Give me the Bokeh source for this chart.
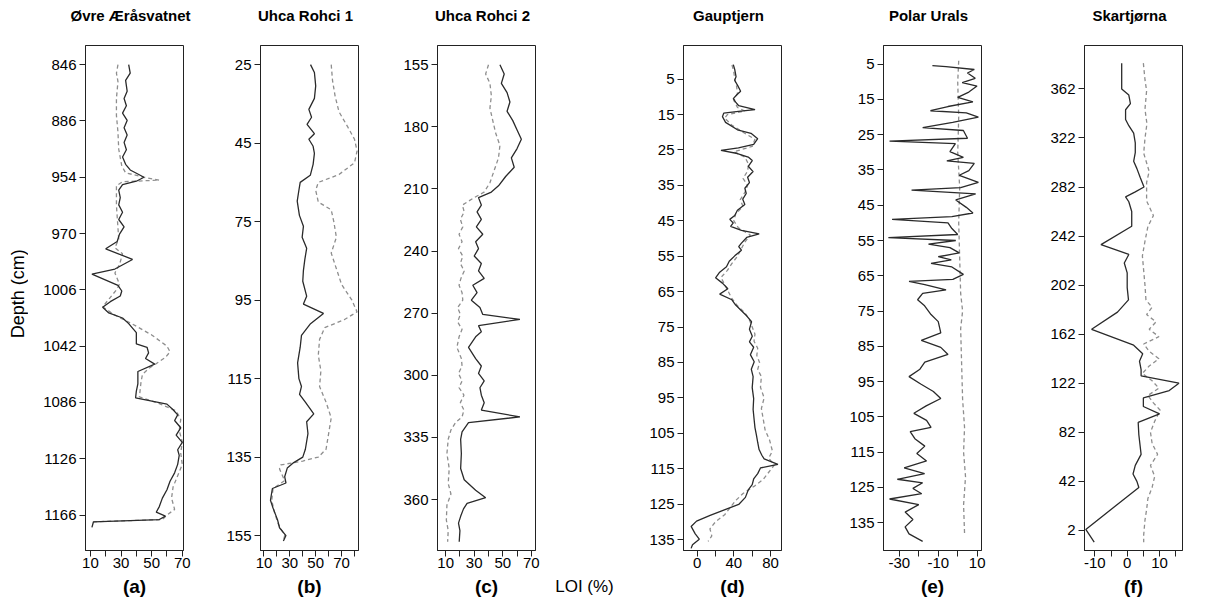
import math
from bokeh.plotting import figure
from bokeh.models import Range1d, FixedTicker, Label
from bokeh.layouts import row, column
from bokeh.embed import file_html
from bokeh.resources import INLINE

# ---------------- data ----------------
# Depth axes of panels a-c are drawn in evenly spaced "label slots": slot i carries label *_depth_labels[i].
titles = ["Øvre Æråsvatnet", "Uhca Rohci 1", "Uhca Rohci 2", "Gauptjern", "Polar Urals", "Skartjørna"]
letters = ["(a)", "(b)", "(c)", "(d)", "(e)", "(f)"]

a_depth_labels = ["846", "886", "954", "970", "1006", "1042", "1086", "1126", "1166"]
a_solid_pos = [0.00, 0.15, 0.28, 0.47, 0.60, 0.73, 0.86, 0.99, 1.12, 1.25, 1.38, 1.51, 1.64, 1.77, 1.87, 2.00, 2.07,
               2.13, 2.23, 2.36, 2.49, 2.62, 2.75, 2.88, 3.01, 3.14, 3.27, 3.46, 3.63, 3.72, 3.92, 4.02, 4.11, 4.21,
               4.31, 4.41, 4.50, 4.60, 4.76, 4.96, 5.02, 5.12, 5.22, 5.32, 5.45, 5.67, 5.80, 5.92, 6.03, 6.13, 6.22,
               6.32, 6.45, 6.58, 6.71, 6.84, 6.94, 7.10, 7.25, 7.40, 7.55, 7.70, 7.85, 7.95, 8.02, 8.08, 8.12, 8.22]
a_solid_loi = [35, 36, 33, 34, 32, 33.5, 31, 34, 32, 34, 32, 33.5, 31, 33, 36, 45, 40, 31, 28.5, 29.5, 28.5, 31, 28.5,
               32, 29, 27.5, 20, 37.5, 26, 11, 28, 30.5, 29.5, 23, 18, 22, 31, 35, 40, 40, 47, 48, 46, 52, 41, 41, 40,
               39.5, 60, 64, 67, 65, 69, 66, 70, 67, 68, 67, 65, 62, 60, 57, 55, 53, 59, 55, 12, 11]
a_dash_pos = [0.0, 0.15, 0.3, 0.6, 0.9, 1.2, 1.5, 1.8, 1.92, 2.0, 2.05, 2.08, 2.15, 2.5, 2.9, 3.1, 3.25, 3.36, 3.55,
              3.7, 3.9, 4.0, 4.15, 4.3, 4.45, 4.6, 4.8, 5.0, 5.1, 5.2, 5.4, 5.5, 5.65, 5.9, 6.02, 6.15, 6.3, 6.5, 6.7,
              6.9, 7.1, 7.3, 7.5, 7.7, 7.9, 8.0, 8.08, 8.12]
a_dash_loi = [28, 27, 28, 27, 27, 28, 28.5, 30.5, 33, 45, 55, 31, 27, 27, 28, 28.5, 26, 31, 29, 26, 29, 27, 22.5, 18,
              26, 37, 50, 60, 62, 59, 48, 44, 43, 42, 55, 66, 69, 68, 70, 69, 70, 67, 64, 63, 65, 60, 57, 12]

b_depth_labels = ["25", "45", "75", "95", "115", "135", "155"]
b_solid_pos = [0.0, 0.1, 0.27, 0.43, 0.57, 0.67, 0.76, 0.88, 0.95, 1.04, 1.13, 1.27, 1.41, 1.5, 1.6, 1.74, 1.92, 2.06,
               2.2, 2.34, 2.48, 2.62, 2.76, 2.95, 3.05, 3.17, 3.3, 3.45, 3.6, 3.8, 4.0, 4.1, 4.2, 4.3, 4.45, 4.55, 4.7,
               4.9, 5.0, 5.07, 5.14, 5.25, 5.33, 5.4, 5.55, 5.65, 5.8, 5.9, 6.0, 6.07]
b_solid_loi = [46, 49, 50, 49, 44.7, 46.8, 43.3, 49, 44.7, 48, 49, 48, 45.8, 38, 37, 35.7, 37.4, 40.5, 39.5, 43, 41.6,
               40.5, 40, 43, 40.5, 56, 46, 39, 38, 36, 37, 39, 37.5, 42, 48.5, 43, 44, 42, 40, 33, 28, 26, 27, 16.5, 15,
               17, 20.5, 22, 27, 25]
b_dash_pos = [0.0, 0.2, 0.4, 0.6, 0.8, 0.95, 1.1, 1.25, 1.4, 1.5, 1.6, 1.75, 1.85, 2.0, 2.2, 2.4, 2.6, 2.8, 3.0, 3.15,
              3.25, 3.35, 3.5, 3.7, 3.9, 4.1, 4.3, 4.5, 4.7, 4.9, 5.0, 5.05, 5.1, 5.15, 5.3, 5.4, 5.55, 5.7, 5.85, 6.0,
              6.07]
b_dash_loi = [62, 63, 65, 68, 75, 80, 82, 80, 68, 52, 50, 52, 62, 64, 66, 62, 66, 70, 78, 82, 72, 57, 53, 52, 54, 53,
              58, 62, 60, 58, 52, 40, 23, 22, 26, 17, 16, 18, 21, 26, 25]

c_depth_labels = ["155", "180", "210", "240", "270", "300", "335", "360"]
c_solid_pos = [0.0, 0.15, 0.3, 0.45, 0.6, 0.75, 0.9, 1.05, 1.2, 1.35, 1.5, 1.65, 1.8, 1.95, 2.05, 2.14, 2.26, 2.37,
               2.49, 2.61, 2.73, 2.85, 2.96, 3.08, 3.2, 3.32, 3.44, 3.55, 3.67, 3.79, 3.91, 4.02, 4.1, 4.2, 4.3, 4.38,
               4.55, 4.73, 4.85, 4.97, 5.09, 5.2, 5.32, 5.44, 5.56, 5.67, 5.76, 5.91, 6.03, 6.26, 6.5, 6.68, 6.85, 6.97,
               7.06, 7.15, 7.27, 7.38, 7.5, 7.68]
c_solid_loi = [48, 51, 49, 53, 55, 53, 57, 60, 63, 60, 56, 58, 52, 47, 42,
               33, 35, 32, 35, 31.5, 36, 31, 33, 30, 35, 33, 37, 29, 32, 28, 34, 36, 62, 33, 35, 31, 26, 31, 35, 33,
               37, 34, 35, 37, 35, 62,
               26, 21.5, 20.5, 21, 20.5, 23, 31, 38, 25, 22.5, 20.5, 19, 20, 19.5]
c_dash_pos = [0.0, 0.15, 0.3, 0.5, 0.7, 0.9, 1.1, 1.3, 1.5, 1.7, 1.9, 2.05, 2.14, 2.26, 2.37, 2.49, 2.61, 2.73, 2.85,
              2.96, 3.08, 3.2, 3.32, 3.44, 3.55, 3.67, 3.79, 3.91, 4.02, 4.14, 4.26, 4.38, 4.55, 4.73, 4.85, 4.97, 5.09,
              5.2, 5.32, 5.44, 5.56, 5.67, 5.76, 5.88, 6.03, 6.26, 6.5, 6.74, 6.91, 7.09, 7.33, 7.5, 7.68]
c_dash_loi = [40, 38, 41, 42, 41, 43, 45, 48, 47, 44, 41, 37,
              30, 21.7, 23, 20.3, 22, 19.4, 21.5, 19, 22, 20.3, 23, 20.7, 19.4, 21.5, 22, 18.4, 20.3, 18.4, 21.5, 19.4,
              17.9, 21, 21.5, 19, 21.5, 19.4, 22.8, 20.3, 22.8, 21.5,
              17, 13.7, 11.8, 10.9, 12.5, 11.8, 13.7, 10.9, 10.5, 11.8, 11.4]

d_depth_ticks = [5, 15, 25, 35, 45, 55, 65, 75, 85, 95, 105, 115, 125, 135]
d_solid_depth = [0.9, 2.2, 4.3, 5.3, 6.9, 8.4, 9.4, 10.5, 11.5, 12.5, 13.6, 14.1, 14.6, 15.6, 17.2, 19.3, 20.3, 21.8,
                 23.4, 24.4, 25.1, 26, 27, 28, 29.6, 31.1, 32.7, 34.2, 35.8, 37.3, 38.9, 40.4, 42, 43.5, 44.6, 45.6,
                 46.6, 47.7, 48.7, 49.7, 51.3, 52.3, 53.3, 54.9, 56.4, 58, 59.5, 61.1, 62.6, 64.2, 65.7, 67.3, 68.8,
                 70.4, 71.9, 73.5, 75.6, 77.6, 79.2, 80.7, 82.8, 84.8, 86.9, 89, 92.1, 95.2, 98.3, 101.4, 103.4, 105.5,
                 107.6, 109.6, 111.2, 112.2, 113.8, 114.8, 116.4, 117.9, 119.5, 121, 123.1, 125.1, 126.7, 128.2, 129.8,
                 131.3, 133.4, 134.9, 136.5, 137.5]
d_solid_loi = [39.4, 40.9, 42.4, 40.9, 44.4, 47.4, 43.3, 39.4, 42, 45.3, 63.1, 45, 29, 27.6, 31, 43.9, 58.7, 66, 61.6,
               45, 26, 43.9, 55.7, 60.1, 55.7, 61, 55, 57, 52, 53.5, 49.7, 52, 43.9, 41, 35.6, 39.4, 36.5, 48.3, 67.6,
               54, 48.3, 45.3, 48.3, 41, 35, 32, 24.6, 20.1, 27.6, 33.5, 24.6, 37.9, 42, 48.3, 54.2, 59.3, 57, 60.1, 57,
               61.6, 58, 62.2, 59, 61, 60, 61.6, 61, 62.2, 63, 64.6, 66, 67.5, 70.5, 73, 88, 69, 66, 61.6, 60, 55.7,
               52.6, 45.3, 29, 14.2, -0.6, -6.5, -2, 2.4, -5, -6.5]
d_dash_depth = [1, 3, 5, 7, 9, 11, 13, 14, 15, 16, 18, 20, 22, 24, 25.5, 27, 29, 31, 33, 35, 37, 39, 41, 43, 45, 47,
                49, 51, 53, 55, 57, 59, 61, 63, 65, 67, 69, 71, 73, 75, 77, 79, 81, 83, 85, 87, 89, 92, 95, 98, 101,
                104, 107, 110, 112, 114, 116, 118, 120, 122, 124, 126, 128, 130, 132, 134, 135.5]
d_dash_loi = [38, 40, 41, 43, 44, 40, 44, 52, 33, 30, 38, 50, 63, 60, 40, 52, 56, 55, 50, 55, 52, 47, 50, 42, 40, 45,
              58, 52, 48, 44, 38, 33, 26, 30, 34, 38, 44, 52, 57, 60, 63, 62, 66, 65, 68, 66, 70, 69, 73, 70, 72, 74,
              79, 82, 78, 84, 78, 72, 62, 50, 42, 36, 30, 20, 14, 16, 12]

e_depth_ticks = [5, 15, 25, 35, 45, 55, 65, 75, 85, 95, 105, 115, 125, 135]
e_solid_depth = [5.4, 5.7, 6.5, 7.5, 9, 10.2, 11.2, 12.9, 14.4, 15.7, 17, 18.2, 18.8, 20, 21.5, 23, 23.8, 26, 26.8,
                 27.5, 29.8, 31.4, 32.4, 33.1, 35.2, 36.5, 38.5, 40, 40.7, 41.8, 43.5, 45.6, 47.2, 48.2, 49, 50, 51.6,
                 53.3, 54.2, 55, 56, 57, 58.5, 59.6, 60.5, 61.5, 62.5, 64.6, 66, 66.6, 67.5, 69, 70, 71.8, 73.5, 76,
                 78, 81.2, 83.3, 85.3, 87.3, 89.5, 91.5, 93.6, 95.7, 97.8, 99.8, 101.9, 104, 106, 108, 109.2, 111.2,
                 113.3, 115.4, 117.5, 119.5, 121.1, 122.7, 123.7, 125.3, 126.8, 128.3, 129.9, 132, 134.1, 136.2, 138.2,
                 140.3]
e_solid_loi = [-13, -6, 8.5, 5, 9, 2.3, 9.9, 5.7, 0, 7.8, -5, -14, 4.4, 10.6, -2.6, -18, 2.9, 5, -35, -1.2, -4, 2.9,
               -5.6, 8.5, 5.7, 0.8, 10.6, 1.5, -23.7, 9.2, -1, 4.4, 7.8, -3, -33.7, -5, -3, 0, -35.6, -1, -15, -4, 0.8,
               -10, -3.3, -13.7, -3, 2.9, -2.5, -25, -16.9, -6, -18, -20.6, -17, -13.7, -10, -8.7, -18.7, -8.7, -5,
               -16.9, -19.4, -25, -19, -12.5, -8.7, -16.2, -22.5, -16, -13.7, -24.4, -22, -16.9, -21, -16, -27.5, -17,
               -31, -18, -23, -18.5, -35, -20, -27, -23, -27, -25, -18]
e_dash_depth = [4, 10, 20, 30, 40, 50, 60, 70, 75, 80, 90, 100, 108, 115, 122, 130, 138]
e_dash_loi = [0.5, 0, 0.5, 0, 1, 0.5, 1, 1.5, 2.5, 1.5, 2, 2.5, 3.5, 3, 4, 3, 3.5]

f_depth_ticks = [362, 322, 282, 242, 202, 162, 122, 82, 42, 2]
f_solid_depth = [383, 362, 357, 350, 345, 337, 332, 326, 318, 310, 303, 297, 290, 282, 278, 274, 270, 262, 250, 235,
                 227, 220, 212, 200, 190, 180, 166, 153, 146, 140, 133, 128, 122, 116, 110, 103, 97, 90, 80, 64, 55,
                 48, 42, 37, 2.8, -7.6]
f_solid_loi = [-1.7, -1.7, 0.5, 1, -0.5, -0.5, 0.5, 2, 2.5, 2.5, 2, 3, 4, 5.2, 2.5, -0.5, 0.5, 1.4, 1.4, -8.1, 0.5,
               -0.9, 0, 0, 0.4, -3, -11, 2, 4.8, 3.8, 4.3, 4.3, 16, 13, 5, 5, 10, 3.4, 3.6, 4.3, 2.5, 1.8, 3, 3.6,
               -12.8, -10.2]
f_dash_depth = [383, 369.5, 360.5, 345.5, 333.6, 321.6, 309.6, 294.7, 285.7, 270.7, 258.7, 249.8, 237.8, 225.8, 213.8,
                201.9, 189.9, 183.9, 178, 172, 166, 160, 154, 148, 142, 136, 130, 124, 118, 112, 106, 100, 91, 82, 73,
                64, 55, 46, 37, 28, 19, 10.3, -1.7, -7.6]
f_dash_loi = [5, 5.5, 6, 5.5, 6.1, 5.5, 5.1, 6.8, 6, 6, 8.1, 6.4, 5.5, 4.7, 5.1, 5.5, 5.8, 7.7, 6, 8.9, 6.8, 9.8, 5.1,
              6.8, 9.8, 6.8, 4.7, 7.7, 9.8, 6.4, 8.1, 10.2, 8.5, 7.2, 7.7, 9.4, 7.2, 8.5, 7.7, 6.4, 6, 5.5, 5.1, 5.1]

# LOI axis ticks and which of them carry a label
a_loi_ticks, a_loi_labels = [10, 20, 30, 40, 50, 60, 70], [10, 30, 50, 70]
b_loi_ticks, b_loi_labels = [10, 20, 30, 40, 50, 60, 70, 80], [10, 30, 50, 70]
c_loi_ticks, c_loi_labels = [10, 20, 30, 40, 50, 60, 70], [10, 30, 50, 70]
d_loi_ticks, d_loi_labels = [0, 20, 40, 60, 80], [0, 40, 80]
e_loi_ticks, e_loi_labels = [-30, -20, -10, 0, 10], [-30, -10, 10]
f_loi_ticks, f_loi_labels = [-10, -5, 0, 5, 10, 15], [-10, 0, 10]

# ---------------- layout (page pixels) ----------------
FONT = "Liberation Sans"
PAGE_L, PAGE_R = 8, 1199
TOP_STRIP = (8, 38)          # titles
ROW = (38, 582)              # panels
BOTTOM_STRIP = (582, 605)    # panel letters + LOI (%)
LEFT_STRIP_R = 36            # "Depth (cm)" strip: PAGE_L .. LEFT_STRIP_R
FRAME_TOP = 53
FRAME_BOTTOM = 558
COL_EDGES = [36, 209, 387, 605, 809, 1009, 1199]
FRAME_LEFTS = [93, 268, 445, 691, 891, 1092]
FRAME_W = 98
TITLE_X = [138, 313, 490, 736, 936, 1137]
TITLE_Y = 23
LETTER_Y = 593.5
LOI_XY = (592, 594)
DEPTH_XY = (25, (FRAME_TOP + FRAME_BOTTOM) / 2)

panels = [
    dict(xr=(6.8, 70.8), yr=(8.63, -0.341), xt=a_loi_ticks, xl=a_loi_labels,
         yt=list(range(len(a_depth_labels))), yl=a_depth_labels,
         s=(a_solid_loi, a_solid_pos), d=(a_dash_loi, a_dash_pos)),
    dict(xr=(7.3, 83.1), yr=(6.19, -0.244), xt=b_loi_ticks, xl=b_loi_labels,
         yt=list(range(len(b_depth_labels))), yl=b_depth_labels,
         s=(b_solid_loi, b_solid_pos), d=(b_dash_loi, b_dash_pos)),
    dict(xr=(4.3, 72.9), yr=(7.82, -0.309), xt=c_loi_ticks, xl=c_loi_labels,
         yt=list(range(len(c_depth_labels))), yl=c_depth_labels,
         s=(c_solid_loi, c_solid_pos), d=(c_dash_loi, c_dash_pos)),
    dict(xr=(-14.8, 91.9), yr=(138.1, -4.5), xt=d_loi_ticks, xl=d_loi_labels,
         yt=d_depth_ticks, yl=[str(t) for t in d_depth_ticks],
         s=(d_solid_loi, d_solid_depth), d=(d_dash_loi, d_dash_depth)),
    dict(xr=(-38.1, 12.2), yr=(142.9, -0.3), xt=e_loi_ticks, xl=e_loi_labels,
         yt=e_depth_ticks, yl=[str(t) for t in e_depth_ticks],
         s=(e_solid_loi, e_solid_depth), d=(e_dash_loi, e_dash_depth)),
    dict(xr=(-13.2, 17.1), yr=(-14.4, 397.4), xt=f_loi_ticks, xl=f_loi_labels,
         yt=f_depth_ticks, yl=[str(t) for t in f_depth_ticks],
         s=(f_solid_loi, f_solid_depth), d=(f_dash_loi, f_dash_depth)),
]


def strip(x0, x1, y0, y1):
    """A bare figure whose data coordinates are page pixels (y grows downwards)."""
    s = figure(width=x1 - x0, height=y1 - y0, x_range=Range1d(x0, x1), y_range=Range1d(y1, y0),
               output_backend="svg", toolbar_location=None, title=None,
               x_axis_location=None, y_axis_location=None, min_border=0)
    s.grid.visible = False
    s.outline_line_color = None
    s.background_fill_color = "white"
    s.border_fill_color = "white"
    return s


def put(s, x, y, text, size, bold=False, angle=0.0):
    s.add_layout(Label(x=x, y=y, x_units="data", y_units="data", text=text, text_font=FONT,
                       text_font_size=size, text_font_style="bold" if bold else "normal",
                       text_color="black", text_align="center", text_baseline="middle", angle=angle))


top = strip(PAGE_L, PAGE_R, *TOP_STRIP)
bottom = strip(PAGE_L, PAGE_R, *BOTTOM_STRIP)
left = strip(PAGE_L, LEFT_STRIP_R, *ROW)
put(left, DEPTH_XY[0], DEPTH_XY[1], "Depth (cm)", "18px", angle=math.pi / 2)
put(bottom, LOI_XY[0], LOI_XY[1], "LOI (%)", "17px")

figs = [left]
row_h = ROW[1] - ROW[0]
for i, cfg in enumerate(panels):
    w = COL_EDGES[i + 1] - COL_EDGES[i]
    p = figure(width=w, height=row_h, x_range=Range1d(*cfg["xr"]), y_range=Range1d(*cfg["yr"]),
               output_backend="svg", toolbar_location=None, title=None,
               min_border_left=FRAME_LEFTS[i] - COL_EDGES[i],
               min_border_right=COL_EDGES[i + 1] - (FRAME_LEFTS[i] + FRAME_W),
               min_border_top=FRAME_TOP - ROW[0], min_border_bottom=ROW[1] - FRAME_BOTTOM)
    p.grid.visible = False
    p.outline_line_color = "#222222"
    p.outline_line_width = 1
    p.background_fill_color = "white"
    p.border_fill_color = "white"

    p.line(x=cfg["d"][0], y=cfg["d"][1], line_color="#8e8e8e", line_width=1.3, line_dash="4 3")
    p.line(x=cfg["s"][0], y=cfg["s"][1], line_color="#2a2a2a", line_width=1.3)

    xa = p.xaxis[0]
    xa.ticker = FixedTicker(ticks=cfg["xt"])
    xa.major_label_overrides = {t: (str(t) if t in cfg["xl"] else "") for t in cfg["xt"]}
    ya = p.yaxis[0]
    ya.ticker = FixedTicker(ticks=cfg["yt"])
    ya.major_label_overrides = {t: lab for t, lab in zip(cfg["yt"], cfg["yl"])}
    for ax in (xa, ya):
        ax.major_tick_out = 6
        ax.major_tick_in = 0
        ax.minor_tick_out = 0
        ax.minor_tick_in = 0
        ax.axis_line_color = "#222222"
        ax.major_tick_line_color = "#222222"
        ax.major_label_text_font = FONT
        ax.major_label_text_font_size = "15px"
        ax.major_label_text_color = "black"
    xa.major_label_standoff = 1
    ya.major_label_standoff = 3

    cx = FRAME_LEFTS[i] + FRAME_W / 2
    put(top, TITLE_X[i], TITLE_Y, titles[i], "15px", bold=True)
    put(bottom, cx, LETTER_Y, letters[i], "19px", bold=True)
    figs.append(p)

layout = column(top, row(*figs), bottom)
open("out.html", "w").write(file_html(layout, INLINE))
